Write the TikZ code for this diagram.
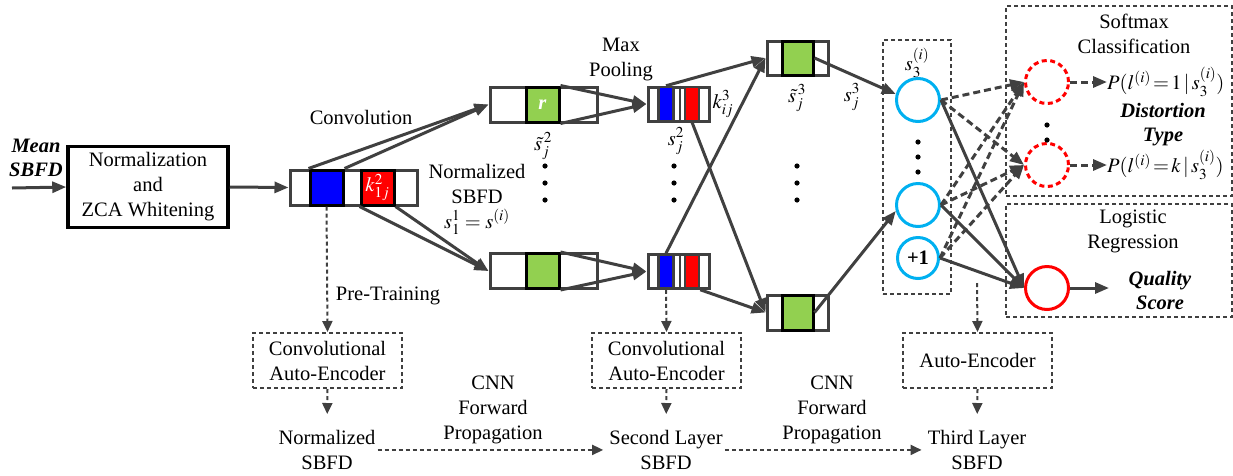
\documentclass[tikz,border=0pt]{standalone}
\usepackage{mathptmx}
\usepackage[no-math]{fontspec}
\setmainfont{Liberation Serif}
\newfontfamily\tnr{Liberation Serif}
\usetikzlibrary{arrows.meta}
\definecolor{dg}{HTML}{404040}
\definecolor{gr}{HTML}{92D050}
\definecolor{cy}{HTML}{00B0F0}
\begin{document}
\begin{tikzpicture}[x=1pt,y=-1pt,
  every node/.style={font=\tnr\fontsize{20.5}{25}\selectfont, inner sep=0pt},
  strip/.style={draw=dg, line width=3pt, fill=white, minimum height=35pt},
  sq/.style={draw=black, line width=3pt, minimum width=33pt, minimum height=35pt},
  bar/.style={draw=dg, line width=2.5pt, minimum width=15pt, minimum height=34pt},
  arr/.style={draw=dg, line width=3pt, -{Triangle[length=14pt,width=11pt]}},
  darr/.style={arr, dash pattern=on 7pt off 4pt},
  dotarr/.style={draw=dg, line width=2pt, dash pattern=on 4pt off 3pt, -{Triangle[length=11pt,width=10pt]}},
  dbox/.style={draw=dg, line width=2pt, dash pattern=on 4pt off 3pt},
  bcirc/.style={circle, draw=cy, line width=3pt, minimum size=43pt},
  rcirc/.style={circle, draw=red, line width=3pt, minimum size=43pt},
  lbl/.style={align=center},
  bi/.style={align=center, font=\tnr\fontsize{20.5}{24}\selectfont\bfseries\itshape}
]
\useasboundingbox (0,0) rectangle (1233,475);

% input
\node[bi] (mean) at (36,158) {Mean\\SBFD};
\coordinate (in0) at (12,188);
\node[draw=black, line width=3.5pt, minimum width=160pt, minimum height=81pt, lbl] (NZ) at (148,187) {Normalization\\and\\ZCA Whitening};

% layer 1
\node[strip, minimum width=127pt] (L1) at (353.5,187.5) {};
\node[sq, fill=blue] (sqB) at (326.5,187.5) {};
\node[sq, fill=red, text=white] (sqR) at (377.5,187.5) {$k_{1j}^2$};

% layer 2 conv strips
\node[strip, minimum width=107pt] (T2t) at (543.5,104.5) {};
\node[sq, fill=gr, text=white] (g2t) at (542.5,104.5) {\textbf{\textit{r}}};
\node[strip, minimum width=107pt] (T2b) at (543.5,271) {};
\node[sq, fill=gr] (g2b) at (542.5,271) {};

% pooling strips
\node[strip, minimum width=61pt, minimum height=34pt] (P2t) at (678.5,104) {};
\draw[dg, line width=2.5pt] (P2t.north) ++(1.5,0) -- ++(0,34);
\node[bar, fill=blue] (bbt) at (666,104) {};
\node[bar, fill=red, minimum width=14pt] (rbt) at (692,104) {};
\node[strip, minimum width=61pt, minimum height=34pt] (P2b) at (678.5,271.5) {};
\draw[dg, line width=2.5pt] (P2b.north) ++(1.5,0) -- ++(0,34);
\node[bar, fill=blue] (bbb) at (666,271.5) {};
\node[bar, fill=red, minimum width=14pt] (rbb) at (692,271.5) {};

% layer 3 strips
\node[strip, minimum width=61pt, minimum height=34pt] (T3t) at (797.5,58) {};
\node[sq, fill=gr, minimum width=31pt, minimum height=34pt] (g3t) at (797.5,58) {};
\node[strip, minimum width=61pt, minimum height=35pt] (T3b) at (797.5,312.5) {};
\node[sq, fill=gr, minimum width=31pt, minimum height=35pt] (g3b) at (797.5,312.5) {};

% labels
\node[lbl] (conv) at (361,117) {Convolution};
\node[lbl] (nsb) at (477,184) {Normalized\\SBFD};
\node (s11) at (477,222) {$s_1^1=s^{(i)}$};
\node[lbl] (maxp) at (621,59) {Max\\Pooling};
\node (st2) at (543,146) {$\tilde{s}_j^{\,2}$};
\node (s2) at (676,141) {$s_j^2$};
\node (k3) at (723,104) {$k_{ij}^3$};
\node (st3) at (797,98) {$\tilde{s}_j^{\,3}$};
\node (s3) at (852,97) {$s_j^3$};
\node (pret) at (388,296) {Pre-Training};

% dots
\foreach \x in {545,674,797} {\foreach \y in {166,183,200} {\fill (\x,\y) circle (2.6);}}

% output stage boxes
\node[dbox, minimum width=68pt, minimum height=254pt] (S3box) at (917,167) {};
\node[dbox, minimum width=226pt, minimum height=190pt] (SMbox) at (1119,101) {};
\node[dbox, minimum width=226pt, minimum height=113pt] (LRbox) at (1119,260.5) {};

\node (s3i) at (917,63) {$s_3^{(i)}$};
\node[bcirc] (c1) at (918,100) {};
\node[bcirc] (c2) at (918,205) {};
\node[bcirc, minimum size=41pt, font=\tnr\fontsize{20.5}{25}\selectfont\bfseries] (c3) at (918,258) {+1};
\foreach \y in {142,157,172} {\fill (918,\y) circle (2.6);}

\node[rcirc, dash pattern=on 5pt off 3.5pt] (r1) at (1047,82) {};
\node[rcirc, dash pattern=on 5pt off 3.5pt] (r2) at (1047,165) {};
\node[rcirc] (RQ) at (1047,288) {};
\foreach \y in {125,140} {\fill (1047,\y) circle (2.6);}

\node[lbl] (smx) at (1134,34) {Softmax\\Classification};
\node[anchor=west] (P1) at (1107,82) {$P(l^{(i)}\!=\!1\,|\,s_3^{(i)})$};
\node[anchor=west] (Pk) at (1107,165) {$P(l^{(i)}\!=\!k\,|\,s_3^{(i)})$};
\node[bi] (dist) at (1163,125) {Distortion\\Type};
\node[lbl] (logr) at (1133,231) {Logistic\\Regression};
\node[bi] (qual) at (1160,290) {Quality\\Score};
\coordinate (qend) at (1109,288);

% bottom
\node[dbox, minimum width=149pt, minimum height=55pt, lbl] (AE1) at (327.5,360.5) {Convolutional\\Auto-Encoder};
\node[dbox, minimum width=149pt, minimum height=55pt, lbl] (AE2) at (666.5,360.5) {Convolutional\\Auto-Encoder};
\node[dbox, minimum width=149pt, minimum height=55pt, lbl] (AE3) at (977.5,360.5) {Auto-Encoder};
\node[lbl, anchor=north] (N1) at (327,430) {Normalized\\SBFD};
\node[lbl, anchor=north] (N2) at (666,430) {Second Layer\\SBFD};
\node[lbl, anchor=north] (N3) at (977,430) {Third Layer\\SBFD};
\node[lbl] (cnn1) at (493,410) {CNN\\Forward\\Propagation};
\node[lbl] (cnn2) at (832,410) {CNN\\Forward\\Propagation};
\coordinate (ae3s) at (977,283);

% connectors
\draw[arr] (in0) -- (NZ.west);
\draw[arr] (NZ.east) -- (L1.west);
\draw[arr] (sqB.north west) -- (T2t.west);
\draw[arr] (sqB.north east) -- (T2t.west);
\draw[arr] (sqR.south west) -- (T2b.west);
\draw[arr] (sqR.south east) -- (T2b.west);
\draw[arr] (g2t.north east) -- (P2t.west);
\draw[arr] (g2t.south east) -- (P2t.west);
\draw[arr] (g2b.north east) -- (P2b.west);
\draw[arr] (g2b.south east) -- (P2b.west);
\draw[arr] (bbt.north) -- (T3t.west);
\draw[arr] (bbb.north) -- (T3t.west);
\draw[arr] (rbt.south) -- (T3b.west);
\draw[arr] (rbb.south east) -- (T3b.west);
\draw[arr] (g3t.east) -- (c1.165);
\draw[arr] (g3b.east) -- (c2.195);

\foreach \c in {c1,c2,c3} {
  \draw[darr] (\c.east) -- (r1.west);
  \draw[darr] (\c.east) -- (r2.west);
  \draw[arr] (\c.east) -- (RQ.west);
}
\draw[darr] (r1.east) -- (P1.west);
\draw[darr] (r2.east) -- (Pk.west);
\draw[arr] (RQ.east) -- (qend);

\draw[dotarr] (sqB.south) -- (AE1.north);
\draw[dotarr] (bbb.south) -- (AE2.north);
\draw[dotarr] (ae3s) -- (AE3.north);
\draw[dotarr, shorten >=16pt] (AE1.south) -- (N1.north);
\draw[dotarr, shorten >=16pt] (AE2.south) -- (N2.north);
\draw[dotarr, shorten >=16pt] (AE3.south) -- (N3.north);
\draw[dotarr, shorten <=2pt, shorten >=6pt] (N1.east) -- (N2.west);
\draw[dotarr, shorten <=2pt, shorten >=6pt] (N2.east) -- (N3.west);
\end{tikzpicture}
\end{document}
